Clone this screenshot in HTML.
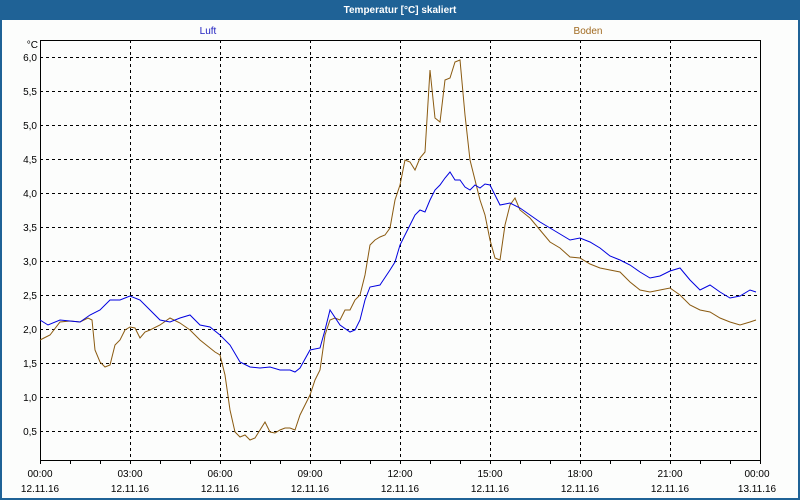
<!DOCTYPE html>
<html><head><meta charset="utf-8"><style>
html,body{margin:0;padding:0;background:#1f6296;}
svg{display:block;}
text{font-family:"Liberation Sans",sans-serif;font-size:10px;fill:#000;}
</style></head><body>
<svg width="800" height="500" viewBox="0 0 800 500" xmlns="http://www.w3.org/2000/svg">
<rect x="0" y="0" width="800" height="500" fill="#1f6296"/>
<rect x="2" y="20" width="796" height="478" fill="#fcfdfc"/>
<text x="400" y="13" text-anchor="middle" style="fill:#fff;font-weight:bold;font-size:10px">Temperatur [°C] skaliert</text>
<text x="208" y="34" text-anchor="middle" style="fill:#2020c0">Luft</text>
<text x="588" y="34" text-anchor="middle" style="fill:#a06a20">Boden</text>
<g stroke="#000" stroke-width="1" stroke-dasharray="3,3" fill="none">
<path d="M40 57.5H760M40 91.5H760M40 125.5H760M40 159.5H760M40 193.5H760M40 227.5H760M40 261.5H760M40 295.5H760M40 329.5H760M40 363.5H760M40 397.5H760M40 431.5H760"/>
<path d="M130.5 40V460M220.5 40V460M310.5 40V460M400.5 40V460M490.5 40V460M580.5 40V460M670.5 40V460"/>
</g>
<rect x="40.5" y="40.5" width="720" height="420" fill="none" stroke="#000"/>
<g stroke="#000"><path d="M70.5 460V464M100.5 460V464M130.5 460V464M160.5 460V464M190.5 460V464M220.5 460V464M250.5 460V464M280.5 460V464M310.5 460V464M340.5 460V464M370.5 460V464M400.5 460V464M430.5 460V464M460.5 460V464M490.5 460V464M520.5 460V464M550.5 460V464M580.5 460V464M610.5 460V464M640.5 460V464M670.5 460V464M700.5 460V464M730.5 460V464M40.5 460V464M760.5 460V464"/></g>
<g text-anchor="end">
<text x="38" y="48">°C</text>
<text x="37" y="61">6,0</text><text x="37" y="95">5,5</text><text x="37" y="129">5,0</text><text x="37" y="163">4,5</text><text x="37" y="197">4,0</text><text x="37" y="231">3,5</text><text x="37" y="265">3,0</text><text x="37" y="299">2,5</text><text x="37" y="333">2,0</text><text x="37" y="367">1,5</text><text x="37" y="401">1,0</text><text x="37" y="435">0,5</text>
</g>
<g text-anchor="middle">
<text x="40" y="477">00:00</text><text x="130" y="477">03:00</text><text x="220" y="477">06:00</text><text x="310" y="477">09:00</text><text x="400" y="477">12:00</text><text x="490" y="477">15:00</text><text x="580" y="477">18:00</text><text x="670" y="477">21:00</text><text x="757" y="477">00:00</text>
<text x="40" y="492">12.11.16</text><text x="130" y="492">12.11.16</text><text x="220" y="492">12.11.16</text><text x="310" y="492">12.11.16</text><text x="400" y="492">12.11.16</text><text x="490" y="492">12.11.16</text><text x="580" y="492">12.11.16</text><text x="670" y="492">12.11.16</text><text x="757" y="492">13.11.16</text>
</g>
<polyline fill="none" stroke="#8a5a10" stroke-width="1" points="40,340 50,335 60,322 70,321 80,322 88,318 92,320 95,350 100,362 105,367 110,365 115,345 120,340 125,330 130,327 135,328 140,338 145,332 150,330 160,325 170,318 180,323 190,330 200,340 210,348 215,352 220,355 225,375 230,410 235,432 240,437 245,435 250,440 255,438 260,430 265,422 270,432 275,433 280,430 285,428 290,428 295,430 300,415 305,405 310,395 315,380 320,370 325,335 330,320 335,318 340,320 345,310 350,310 355,300 360,295 365,275 370,245 375,240 380,237 385,235 390,228 395,200 400,185 405,160 410,162 415,170 420,158 425,152 430,70 435,118 440,122 445,80 450,78 455,62 460,60 465,115 470,160 475,180 480,200 485,215 490,240 495,258 500,260 505,225 510,205 515,198 520,210 530,218 540,230 550,242 560,248 570,257 580,258 590,264 600,268 610,270 620,272 630,282 640,290 650,292 660,290 670,288 680,295 690,305 700,310 710,312 720,318 730,322 740,325 750,322 756,320"/>
<polyline fill="none" stroke="#0000e0" stroke-width="1" points="40,320 48,325 60,320 80,322 90,315 100,310 110,300 120,300 130,296 140,300 150,310 160,320 170,322 180,318 190,315 200,325 210,327 220,335 230,345 240,362 250,367 260,368 270,367 280,370 290,370 295,372 300,368 310,350 320,348 325,330 330,310 340,325 350,332 355,330 360,320 365,300 370,287 380,285 390,270 395,262 400,245 405,235 410,225 415,215 420,210 425,212 430,200 435,190 440,185 445,178 450,172 455,180 460,180 465,187 470,190 475,185 480,188 485,184 490,185 495,195 500,205 510,203 520,208 530,215 540,222 550,228 560,234 570,240 580,238 590,242 600,248 610,256 620,260 630,265 640,272 650,278 660,276 670,271 680,268 690,280 700,290 710,285 720,292 730,298 740,296 750,290 756,292"/>
</svg>
</body></html>
